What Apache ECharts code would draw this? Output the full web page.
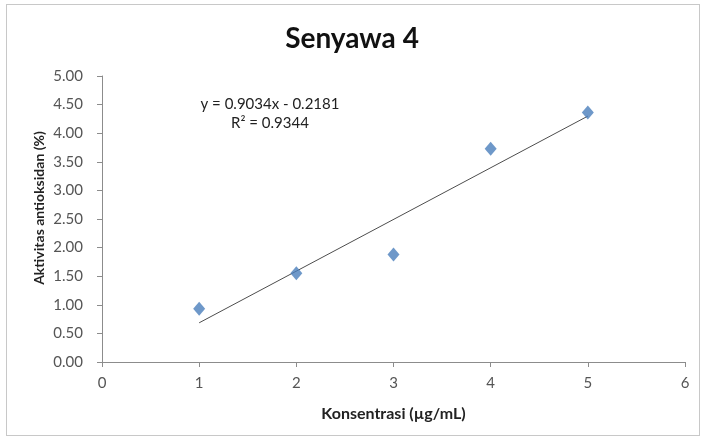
<!DOCTYPE html>
<html>
<head>
<meta charset="utf-8">
<script src="https://cdn.jsdelivr.net/npm/echarts@6/dist/echarts.min.js"></script>
<style>
  html, body { margin: 0; padding: 0; background: #fff; }
  #frame { position: absolute; left: 6px; top: 4px; width: 692px; height: 430px; border: 1px solid #c8c8c8; }
  #chart { position: absolute; left: 0; top: 0; width: 704px; height: 441px; }
</style>
</head>
<body>
<div id="frame"></div>
<div id="chart"></div>
<script>
// Concentration (µg/mL) and measured antioxidant activity (%)
const concentration = [1, 2, 3, 4, 5];
const activity = [0.93, 1.55, 1.88, 3.73, 4.36];

// Linear trendline coefficients as printed on the chart
const slope = 0.9034;
const intercept = -0.2181;
const rSquared = 0.9344;

const xTicks = [0, 1, 2, 3, 4, 5, 6];
const yTicks = [0, 0.5, 1, 1.5, 2, 2.5, 3, 3.5, 4, 4.5, 5];

const trendX = [concentration[0], concentration[concentration.length - 1]];
const trendLine = trendX.map(x => [x, slope * x + intercept]);

const chart = echarts.init(document.getElementById('chart'), null, { renderer: 'canvas' });
const font = 'Lato, "Open Sans", "Liberation Sans", sans-serif';

chart.setOption({
  animation: false,
  backgroundColor: 'transparent',
  title: {
    text: 'Senyawa 4',
    left: 'center',
    top: 20,
    textStyle: { fontFamily: font, fontSize: 28, fontWeight: 'bold', color: '#111' }
  },
  grid: { left: 102, right: 19, top: 76, bottom: 79 },
  xAxis: {
    type: 'value',
    min: xTicks[0],
    max: xTicks[xTicks.length - 1],
    interval: 1,
    name: 'Konsentrasi (µg/mL)',
    nameLocation: 'middle',
    nameGap: 44,
    nameTextStyle: { fontFamily: font, fontSize: 16, fontWeight: 'bold', color: '#222' },
    axisLine: { lineStyle: { color: '#8c8c8c', width: 1 } },
    axisTick: { show: true, length: 5, lineStyle: { color: '#8c8c8c' } },
    axisLabel: { fontFamily: font, fontSize: 15, color: '#555', margin: 14 },
    splitLine: { show: false }
  },
  yAxis: {
    type: 'value',
    min: yTicks[0],
    max: yTicks[yTicks.length - 1],
    interval: 0.5,
    axisLine: { show: true, lineStyle: { color: '#8c8c8c', width: 1 } },
    axisTick: { show: true, length: 5, lineStyle: { color: '#8c8c8c' } },
    axisLabel: {
      fontFamily: font, fontSize: 15, color: '#555', margin: 19,
      formatter: v => v.toFixed(2)
    },
    splitLine: { show: false }
  },
  series: [
    {
      name: 'Trendline',
      type: 'line',
      data: trendLine,
      symbol: 'none',
      lineStyle: { color: '#4d4d4d', width: 1 },
      z: 2
    },
    {
      name: 'Aktivitas',
      type: 'scatter',
      data: concentration.map((x, i) => [x, activity[i]]),
      symbol: 'diamond',
      symbolSize: [12, 14],
      itemStyle: { color: '#4a7ebb' },
      z: 3
    }
  ],
  graphic: [
    {
      // vertical axis title
      type: 'text',
      x: 39,
      y: 208,
      rotation: Math.PI / 2,
      style: {
        text: 'Aktivitas antioksidan (%)',
        fontFamily: font, fontSize: 14, fontWeight: 'bold', fill: '#222',
        align: 'center', verticalAlign: 'middle'
      }
    },
    {
      type: 'text',
      x: 270,
      y: 104,
      style: {
        text: 'y = ' + slope.toFixed(4) + 'x - ' + Math.abs(intercept).toFixed(4),
        fontFamily: font, fontSize: 15, fill: '#222',
        align: 'center', verticalAlign: 'middle'
      }
    },
    {
      type: 'text',
      x: 270,
      y: 123,
      style: {
        text: 'R² = ' + rSquared.toFixed(4),
        fontFamily: font, fontSize: 15, fill: '#222',
        align: 'center', verticalAlign: 'middle'
      }
    }
  ]
});
</script>
</body>
</html>
